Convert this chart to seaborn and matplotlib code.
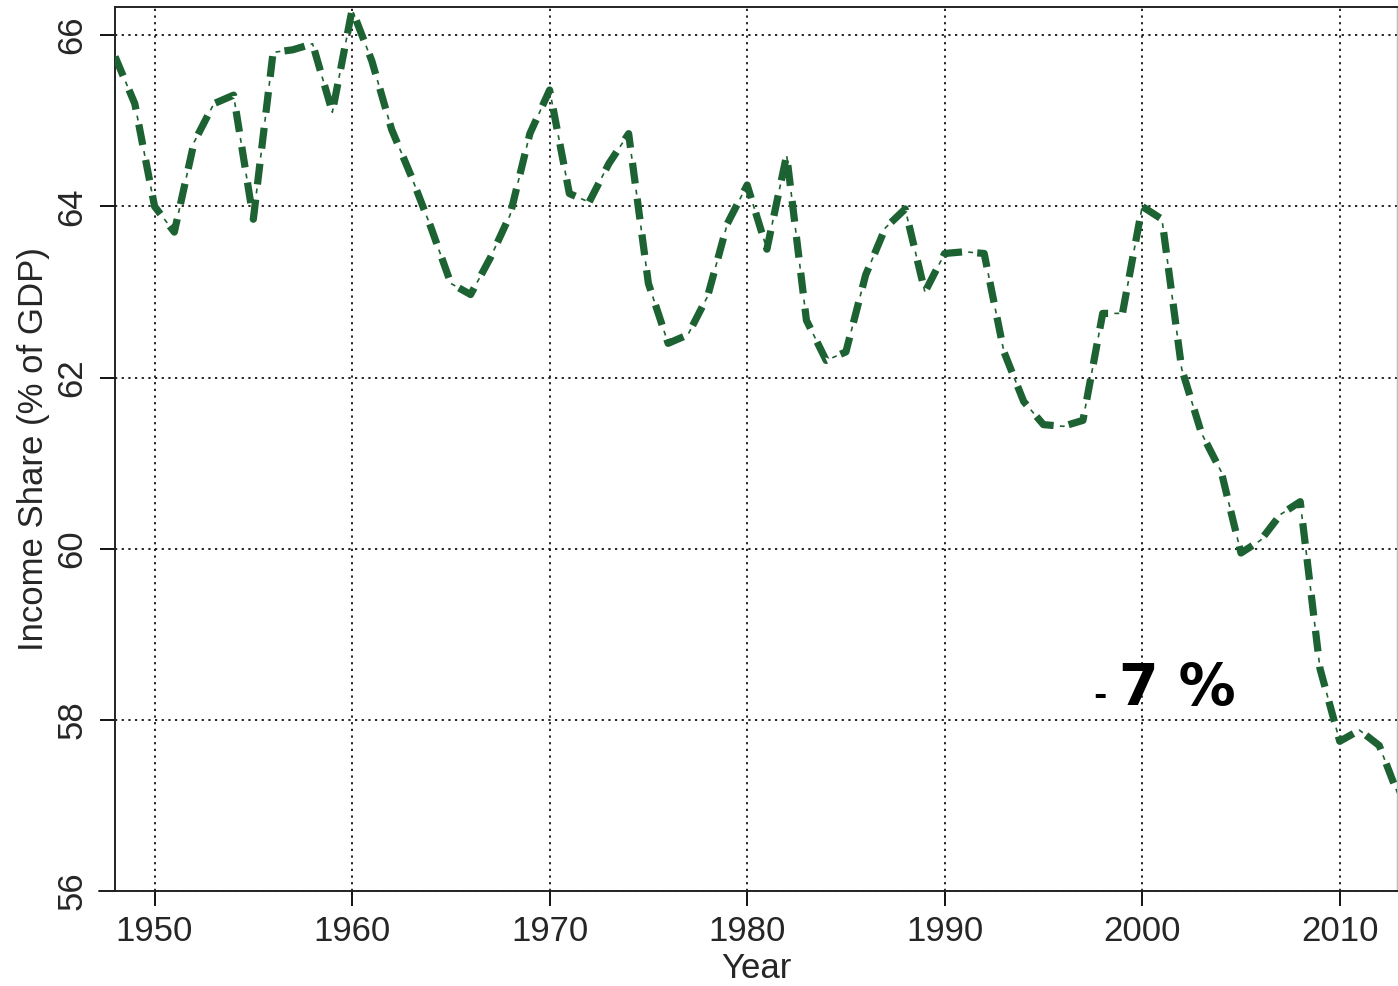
import matplotlib
matplotlib.use("Agg")
import matplotlib.pyplot as plt
import seaborn as sns
import pandas as pd
from matplotlib.lines import Line2D

years = list(range(1948, 2014))
income_share = [
    65.75, 65.2, 64.0, 63.7, 64.75, 65.2, 65.3, 63.85, 65.8, 65.83,
    65.9, 65.1, 66.3, 65.7, 64.9, 64.35, 63.75, 63.1, 62.97, 63.4,
    63.9, 64.85, 65.36, 64.15, 64.05, 64.5, 64.85, 63.1, 62.4, 62.5,
    62.95, 63.8, 64.25, 63.5, 64.6, 62.67, 62.2, 62.3, 63.2, 63.75,
    63.97, 63.0, 63.45, 63.47, 63.45, 62.3, 61.72, 61.45, 61.43, 61.5,
    62.75, 62.75, 64.0, 63.85, 62.1, 61.35, 60.9, 59.95, 60.1, 60.4,
    60.55, 58.6, 57.75, 57.88, 57.7, 57.1,
]
x_ticks = [1950, 1960, 1970, 1980, 1990, 2000, 2010]
y_ticks = [56, 58, 60, 62, 64, 66]
annotation_text = "7 %"

df = pd.DataFrame({"Year": years, "Share": income_share})

sns.set_theme(style="white")
plt.rcParams["font.family"] = ["Liberation Sans", "DejaVu Sans"]
plt.rcParams["lines.scale_dashes"] = False

fig = plt.figure(figsize=(13.98, 9.86), dpi=100)
ax = fig.add_axes([0.0823, 0.0963, 0.9170, 0.8966])

green = "#1d6232"
# thick dashes
sns.lineplot(data=df, x="Year", y="Share", ax=ax, color=green, lw=5.2,
             estimator=None, linestyle=(0, (15, 11)), solid_capstyle="butt",
             dash_capstyle="butt", zorder=3)
# thin marks between the dashes
sns.lineplot(data=df, x="Year", y="Share", ax=ax, color=green, lw=1.2,
             estimator=None, linestyle=(6.5, (3.5, 22.5)), zorder=3)

ax.set_xlim(1948, 2012.9)
ax.set_ylim(56, 66.33)
ax.set_xticks(x_ticks)
ax.set_yticks(y_ticks)
ax.set_xticklabels([str(v) for v in x_ticks], fontsize=25)
ax.set_yticklabels([str(v) for v in y_ticks], fontsize=25, rotation=90, va="center")

ax.grid(True, color="#111111", linestyle=(0, (1.6, 3.2)), linewidth=1.3)
ax.tick_params(axis="both", which="both", direction="out", length=11, width=1.3,
               color="black", bottom=True, left=True)
ax.tick_params(axis="x", pad=6)
ax.tick_params(axis="y", pad=8)

for side in ["left", "bottom", "top"]:
    ax.spines[side].set_color("#222222")
    ax.spines[side].set_linewidth(1.4)
ax.spines["right"].set_color("#bbbbbb")
ax.spines["right"].set_linewidth(1.0)

# extend x axis line to the left of the y axis
ax.add_line(Line2D([-0.0125, 0], [0, 0], transform=ax.transAxes, color="#222222",
                   lw=1.4, clip_on=False))

ax.set_xlabel("Year", fontsize=25, labelpad=3)
ax.set_ylabel("Income Share (% of GDP)", fontsize=25, labelpad=4)

ax.text(1997.85, 58.17, "-", fontsize=23, fontweight="bold", ha="center",
        va="baseline", family="DejaVu Sans", color="black")
ax.text(1998.85, 58.17, annotation_text, fontsize=41, fontweight="bold",
        ha="left", va="baseline", family="DejaVu Sans", color="black")

fig.savefig("out.png", dpi=100)
